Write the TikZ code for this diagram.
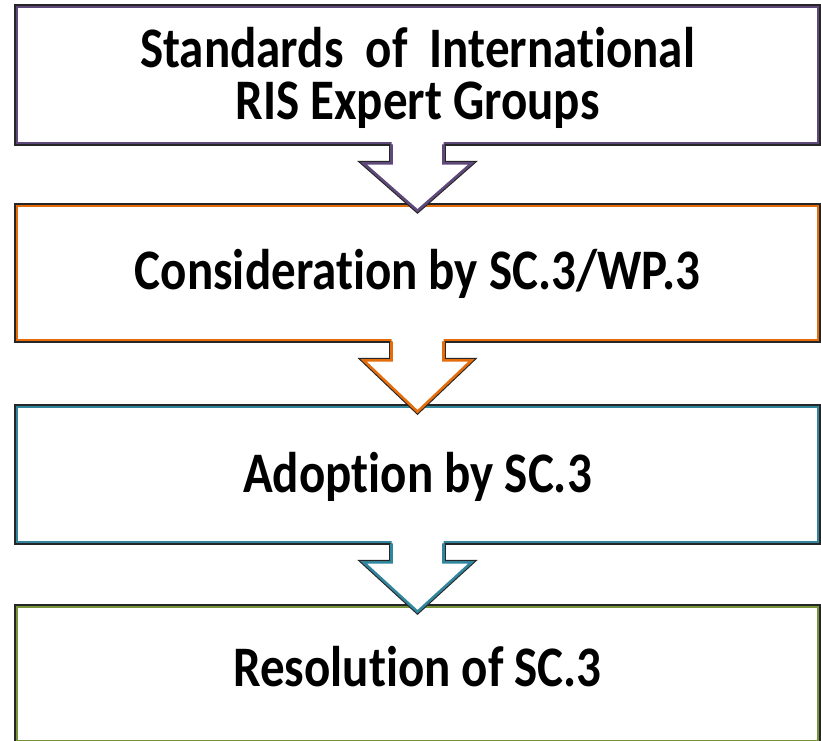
\documentclass[tikz,border=0pt]{standalone}
\usepackage{fontspec}
\usepackage{graphicx}
\setmainfont{Carlito}[Ligatures=NoCommon]
\usetikzlibrary{calc}
\definecolor{cpurple}{HTML}{5F497A}
\definecolor{corange}{HTML}{E46C0A}
\definecolor{cteal}{HTML}{31859C}
\definecolor{cgreen}{HTML}{77933C}
\newcommand{\talltext}[2]{\raisebox{-#1pt}[\height][\depth]{\scalebox{1}[1.17]{\begin{tabular}{@{}c@{}}#2\end{tabular}}}}
\tikzset{
  stagebox/.style={draw=#1, line width=2.6pt, fill=white,
    preaction={draw=black!85, line width=5.4pt},
    minimum width=801pt, inner sep=0pt,
    font=\fontsize{49pt}{43.2pt}\selectfont\bfseries},
}
\newcommand{\blockarr}[3]{%
  \path let \p1=(#1.south), \p2=(#2.north) in
    coordinate (nl) at (\x1-26pt,\y1)
    coordinate (nr) at (\x1+26pt,\y1)
    coordinate (hl) at (\x1-26pt,\y1-19pt)
    coordinate (hr) at (\x1+26pt,\y1-19pt)
    coordinate (wl) at (\x1-54pt,\y1-19pt)
    coordinate (wr) at (\x1+54pt,\y1-19pt)
    coordinate (tp) at (\x1,\y2-6pt)
    coordinate (nlt) at (\x1-26pt,\y1+4pt)
    coordinate (nrt) at (\x1+26pt,\y1+4pt);
  \draw[black!85, line width=4.8pt, line join=miter] (nl) -- (hl) -- (wl) -- (tp) -- (wr) -- (hr) -- (nr);
  \fill[white] (nlt) -- (hl) -- (wl) -- (tp) -- (wr) -- (hr) -- (nrt) -- cycle;
  \draw[#3, line width=2.6pt, line join=miter] (nl) -- (hl) -- (wl) -- (tp) -- (wr) -- (hr) -- (nr);
}
\begin{document}
\begin{tikzpicture}[x=1pt,y=-1pt]
\useasboundingbox (0,0) rectangle (821,740);
\clip (0,0) rectangle (821,740);
\node[stagebox=cpurple, minimum height=136pt] (b1) at (417.5,75)
  {\talltext{6}{Standards\ \ of\ \ International\\RIS Expert Groups}};
\node[stagebox=corange, minimum height=134pt] (b2) at (417.5,273)
  {\talltext{4}{Consideration by SC.3/WP.3}};
\node[stagebox=cteal, minimum height=135pt] (b3) at (417.5,474.5)
  {\talltext{5}{Adoption by SC.3}};
\node[stagebox=cgreen, minimum height=134pt] (b4) at (417.5,674)
  {\talltext{0}{Resolution of SC.3}};
\blockarr{b1}{b2}{cpurple}
\blockarr{b2}{b3}{corange}
\blockarr{b3}{b4}{cteal}
\end{tikzpicture}
\end{document}
